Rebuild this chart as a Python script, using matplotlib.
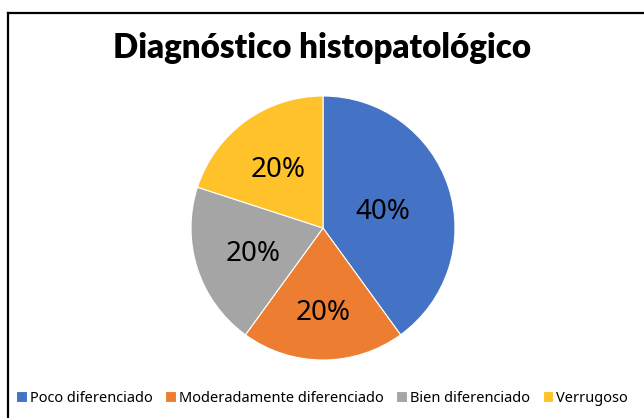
import numpy as np
import matplotlib.pyplot as plt
from matplotlib.lines import Line2D

categories = ['Poco diferenciado', 'Moderadamente diferenciado', 'Bien diferenciado', 'Verrugoso']
values = [40, 20, 20, 20]
colors = ['#4472C4', '#ED7D31', '#A5A5A5', '#FFC22A']
# how far out each percent label sits (fraction of radius)
label_dist = [0.48, 0.62, 0.56, 0.58]

fig = plt.figure(figsize=(6.44, 4.18), dpi=100)
fig.patch.set_facecolor('white')

# pie centred at about (323, 228) px, radius ~132 px
ax = fig.add_axes([(323 - 132) / 644, (418 - 360) / 418, 264 / 644, 264 / 418])
wedges, texts, autotexts = ax.pie(values, colors=colors, startangle=90, counterclock=False,
                                  autopct='%1.0f%%', pctdistance=0.58,
                                  wedgeprops=dict(edgecolor='white', linewidth=0.8),
                                  textprops=dict(fontsize=20, family='Noto Sans', color='black'))
for w, t, d in zip(wedges, autotexts, label_dist):
    mid = np.deg2rad((w.theta1 + w.theta2) / 2)
    t.set_position((d * np.cos(mid), d * np.sin(mid)))
    t.set_va('center_baseline')
ax.set_xlim(-1, 1)
ax.set_ylim(-1, 1)
ax.set_aspect('equal')

fig.text(0.5, 1 - 48 / 418, 'Diagnóstico histopatológico', ha='center', va='center',
         fontsize=23.8, fontweight='heavy', family='Lato')

fig.legend(wedges, categories, loc='center', bbox_to_anchor=(0.5, 20 / 418), ncol=4,
           frameon=False, handlelength=0.7, handleheight=0.7, handletextpad=0.2,
           columnspacing=0.9, prop=dict(family='Noto Sans', size=10.5))

# the frame is cropped: only top and left edges show
fig.add_artist(Line2D([8 / 644, 1], [1 - 13 / 418, 1 - 13 / 418], color='black', lw=1.6,
                      transform=fig.transFigure))
fig.add_artist(Line2D([8 / 644, 8 / 644], [0, 1 - 13 / 418], color='black', lw=1.6,
                      transform=fig.transFigure))

plt.savefig('out.png', dpi=100)
